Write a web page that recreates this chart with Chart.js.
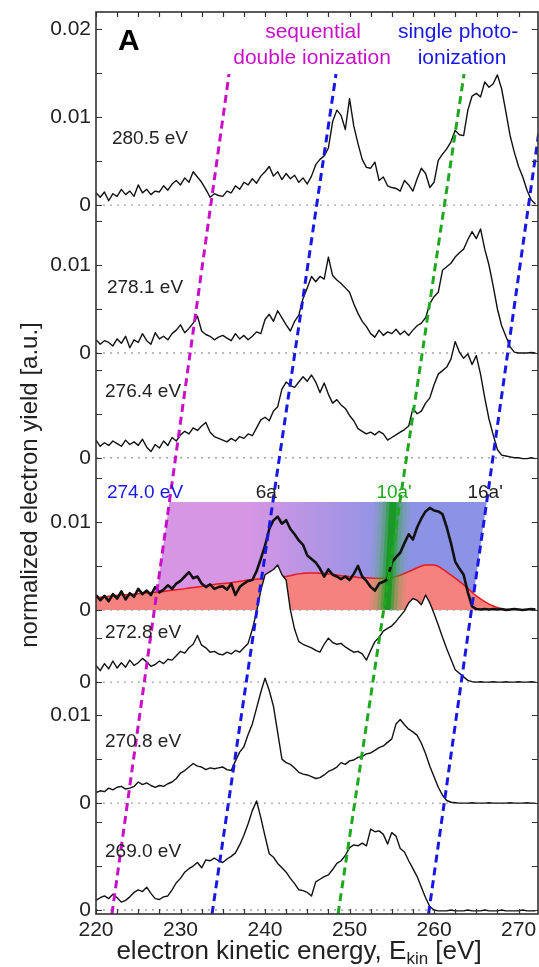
<!DOCTYPE html>
<html>
<head>
<meta charset="utf-8">
<title>Electron yield vs kinetic energy</title>
<script src="https://cdn.jsdelivr.net/npm/chart.js@4.4.1/dist/chart.umd.min.js"></script>
<style>
  html, body { margin: 0; padding: 0; background: #fff; overflow: hidden; }
  canvas { display: block; }
</style>
</head>
<body>
<canvas id="spectra" width="539" height="967"></canvas>
<script>
// kinetic energy grid shared by all traces (eV)
const energy = [
  220, 220.5, 221, 221.5, 222, 222.5, 223, 223.5, 224, 224.5,
  225, 225.5, 226, 226.5, 227, 227.5, 228, 228.5, 229, 229.5,
  230, 230.5, 231, 231.5, 232, 232.5, 233, 233.5, 234, 234.5,
  235, 235.5, 236, 236.5, 237, 237.5, 238, 238.5, 239, 239.5,
  240, 240.5, 241, 241.5, 242, 242.5, 243, 243.5, 244, 244.5,
  245, 245.5, 246, 246.5, 247, 247.5, 248, 248.5, 249, 249.5,
  250, 250.5, 251, 251.5, 252, 252.5, 253, 253.5, 254, 254.5,
  255, 255.5, 256, 256.5, 257, 257.5, 258, 258.5, 259, 259.5,
  260, 260.5, 261, 261.5, 262, 262.5, 263, 263.5, 264, 264.5,
  265, 265.5, 266, 266.5, 267, 267.5, 268, 268.5, 269, 269.5,
  270, 270.5, 271, 271.5, 272
];

// photon energy of each trace, top to bottom
const photonEnergies = ['280.5 eV', '278.1 eV', '276.4 eV', '274.0 eV', '272.8 eV', '270.8 eV', '269.0 eV'];

// vertical offset of each trace on the common axis (a.u.)
const offsets = [0.0801, 0.0633, 0.0514, 0.0341, 0.0259, 0.01215, 0];

// electron yield per trace, in units of 1e-3
const yield2805 = [
  1.4, 0.9, 1.5, 0.5, 1.3, 1.0, 1.8, 1.2, 1.6, 1.0,
  2.3, 1.4, 1.8, 1.2, 1.6, 1.5, 2.2, 1.7, 2.4, 2.8,
  2.3, 3.1, 2.6, 3.8, 3.2, 2.6, 1.8, 0.9, 1.3, 1.1,
  1.0, 1.6, 1.4, 2.2, 1.8, 2.6, 2.3, 3.0, 2.5, 3.3,
  3.8, 4.4, 3.3, 3.8, 2.9, 3.6, 3.0, 3.4, 2.6, 3.1,
  2.4, 3.3, 4.6, 5.2, 5.6, 6.5, 9.5, 10.8, 10.2, 8.6,
  12.1, 9.0, 7.0, 5.2, 4.3, 4.2, 4.9, 2.8, 3.2, 2.2,
  2.0, 1.9, 1.6, 2.8, 2.3, 1.6, 3.0, 4.2, 3.6, 2.0,
  2.6, 5.1, 5.8, 6.4, 7.2, 8.5, 8.0, 7.9, 10.8, 12.4,
  12.7, 12.3, 14.0, 13.4, 13.8, 14.8, 13.2, 10.6, 7.9, 6.0,
  4.4, 3.2, 1.7, 0.6, 0.1
];
const yield2781 = [
  1.5, 1.0, 1.4, 1.2, 0.8, 1.6, 1.1, 1.9, 0.6, 1.5,
  1.2, 2.2, 1.4, 1.0, 2.3, 1.6, 1.9, 1.5, 2.2, 2.6,
  3.2, 2.3, 2.8, 3.4, 4.2, 2.5, 2.1, 1.9, 1.5, 1.8,
  2.0, 1.7, 1.4, 2.2, 1.6, 2.0, 1.5, 1.9, 2.4, 2.2,
  3.8, 4.4, 3.6, 4.8, 4.0, 3.2, 2.5, 3.6, 4.3, 6.2,
  7.4, 8.7, 8.1, 8.7, 8.4, 10.9, 8.8, 8.3, 7.9, 7.4,
  6.9, 5.6, 4.5, 3.6, 3.0, 2.2, 1.8, 2.6, 2.0, 2.4,
  2.2, 2.7, 2.1, 2.5, 2.0, 2.6, 3.1, 3.4, 4.0, 5.6,
  6.4, 6.9, 9.4, 9.8, 10.2, 10.9, 11.4, 11.8, 12.9, 13.8,
  13.0, 14.1, 11.8, 10.0, 7.6, 5.0, 3.1, 1.9, 0.7, 0.1,
  0.0, 0.0, 0.0, 0.05, 0.0
];
const yield2764 = [
  2.0, 1.3, 1.7, 1.4, 1.9, 1.6, 1.3, 2.0, 1.5, 1.8,
  1.4, 2.1, 1.2, 0.7, 1.5, 1.1, 1.9, 1.4, 2.3, 1.9,
  2.6, 3.0, 2.7, 3.4, 3.1, 3.6, 4.0, 2.9, 2.4, 2.2,
  2.0, 1.8, 2.2, 1.9, 2.4, 2.2, 2.7, 2.5, 3.4, 4.3,
  4.6, 4.2, 5.3, 5.8, 7.8, 8.6, 8.2, 8.0, 8.6, 9.2,
  8.7, 9.4, 8.6, 7.4, 8.5, 7.2, 6.2, 6.6, 6.0, 5.6,
  4.8, 4.2, 3.3, 3.0, 2.7, 2.9, 2.6, 3.0, 2.7, 2.0,
  2.3, 2.6, 2.9, 3.2, 3.6, 5.6, 5.0, 5.3, 6.2, 6.8,
  8.3, 9.5, 9.9, 10.3, 11.2, 13.2, 12.0, 11.3, 11.8, 10.6,
  11.6, 9.5, 6.8, 4.4, 2.6, 0.9, 0.3, 0.2, 0.1, 0.0,
  0.0, -0.1, -0.1, 0.0, -0.1
];
const yield2740 = [
  1.7, 1.1, 1.6, 1.0, 1.8, 1.3, 2.1, 1.2, 1.9, 1.5,
  2.4, 1.8, 2.2, 1.7, 2.6, 2.0, 2.3, 2.8, 2.4, 3.0,
  3.3, 3.8, 4.3, 3.6, 3.8, 3.0, 2.6, 2.9, 2.4, 2.6,
  2.7, 2.3, 3.0, 1.7, 2.6, 3.0, 3.3, 3.4, 4.4, 5.8,
  7.3, 9.2, 10.2, 10.6, 9.8, 10.2, 9.2, 8.6, 7.9, 7.4,
  6.2, 5.8, 5.4, 4.7, 3.8, 4.6, 4.0, 3.8, 3.5, 3.8,
  3.4, 4.1, 5.0, 3.8, 3.3, 2.6, 2.2, 3.0, 3.2, 3.5,
  5.4, 6.0, 6.5, 7.6, 8.6, 8.0, 9.4, 10.4, 11.2, 11.6,
  11.3, 11.2, 10.9, 9.4, 7.6, 5.5, 4.7, 4.0, 2.0, 0.4,
  0.1, 0.05, 0.1, 0.05, 0.1, 0.05, 0.1, 0.0, 0.05, 0.1,
  0.05, 0.0, 0.05, 0.1, 0.05
];
const yield2728 = [
  1.9, 1.3, 2.1, 1.5, 2.4, 1.6, 2.2, 1.7, 2.5, 1.9,
  2.2, 2.7, 2.3, 1.8, 2.0, 2.4, 2.1, 2.6, 2.5, 3.0,
  3.5, 3.3, 3.9, 4.3, 5.3, 4.2, 3.9, 3.4, 3.5, 3.2,
  3.1, 3.4, 3.2, 3.6, 3.4, 3.9, 4.4, 6.0, 8.0, 10.4,
  12.2, 12.5, 12.8, 13.3, 12.2, 11.6, 8.2, 6.0, 4.6, 4.3,
  4.1, 3.9, 3.6, 3.4, 4.3, 5.0, 4.5, 4.3, 4.4, 4.0,
  3.7, 3.4, 3.5, 3.2, 2.5, 3.6, 4.6, 5.1, 5.8, 6.1,
  6.4, 6.9, 7.5, 8.1, 9.0, 9.5, 9.3, 8.8, 9.9, 9.0,
  7.8, 6.5, 5.1, 3.8, 2.6, 1.4, 1.0, 0.6, 0.2, 0.05,
  0.0, 0.05, 0.0, 0.0, 0.05, 0.0, 0.0, 0.05, 0.0, 0.0,
  0.05, 0.0, 0.0, 0.05, 0.0
];
const yield2708 = [
  1.2, 1.4, 1.3, 1.7, 1.5, 1.8, 1.9, 1.6, 1.7, 1.9,
  2.4, 2.1, 2.3, 2.0, 1.8, 2.0, 1.9, 2.2, 2.4, 2.8,
  3.4, 3.7, 4.1, 4.5, 4.2, 4.1, 3.8, 4.0, 3.9, 4.0,
  4.1, 3.8, 3.7, 4.8, 5.8, 6.4, 7.8, 9.0, 10.8, 12.6,
  14.2, 12.8, 11.0, 8.0, 5.0, 4.6, 4.4, 4.0, 3.5, 3.3,
  3.2, 3.0, 2.8, 2.9, 3.2, 3.6, 3.8, 4.1, 4.6, 4.4,
  4.8, 4.9, 5.2, 5.3, 5.6, 5.7, 6.0, 6.3, 6.5, 6.9,
  7.3, 9.0, 9.5, 8.9, 8.4, 8.1, 7.7, 6.8, 5.6, 4.2,
  3.0, 1.8, 0.9, 0.3, 0.1, 0.05, 0.0, 0.0, 0.0, 0.05,
  0.0, 0.0, 0.0, 0.05, 0.0, 0.0, 0.0, 0.0, 0.05, 0.0,
  0.0, 0.0, 0.05, 0.0, 0.0
];
const yield2690 = [
  1.1, 1.4, 1.6, 1.3, 1.8, 1.4, 0.9, 1.1, 1.5, 2.0,
  2.3, 2.1, 2.6, 1.9, 1.3, 1.2, 1.5, 1.6, 2.3, 3.1,
  3.6, 4.3, 4.7, 5.0, 5.4, 4.8, 5.7, 5.6, 5.9, 5.6,
  5.4, 5.8, 6.1, 6.5, 7.4, 8.5, 9.8, 11.3, 12.4, 10.5,
  8.4, 6.4, 6.0, 5.3, 4.8, 4.3, 3.6, 3.0, 2.3, 2.2,
  2.0, 1.6, 3.2, 3.5, 3.8, 4.0, 4.6, 5.3, 5.6, 6.2,
  7.1, 7.4, 7.3, 7.6, 7.3, 9.2, 8.9, 9.0, 8.6, 7.5,
  8.8, 8.4, 7.0, 6.6, 5.6, 4.7, 3.8, 2.6, 1.4, 0.4,
  0.0, -0.1, -0.1, -0.1, 0.0, -0.1, -0.1, -0.1, 0.0, -0.1,
  -0.1, -0.1, 0.0, -0.1, -0.1, -0.1, 0.0, -0.1, -0.1, -0.1,
  -0.1, 0.0, -0.1, -0.1, -0.1
];
const traces = [yield2805, yield2781, yield2764, yield2740, yield2728, yield2708, yield2690];

// smooth background model under the 274.0 eV trace (1e-3)
const modelEnergy = [
  220, 221, 222, 223, 224, 225, 226, 227, 228, 229,
  230, 231, 232, 233, 234, 235, 236, 237, 238, 239,
  240, 241, 242, 243, 244, 245, 246, 247, 248, 249,
  250, 251, 252, 253, 254, 255, 256, 257, 258, 259,
  260, 261, 262, 263, 264, 265, 266, 267, 268, 269
];
const model2740 = [
  1.4, 1.5, 1.6, 1.7, 1.75, 1.85, 1.95, 2.0, 2.1, 2.25,
  2.35, 2.5, 2.6, 2.75, 2.9, 3.0, 3.1, 3.25, 3.4, 3.5,
  3.6, 3.7, 3.75, 3.9, 4.1, 4.2, 4.2, 4.15, 4.05, 3.9,
  3.8, 3.7, 3.65, 3.6, 3.6, 3.7, 3.95, 4.35, 4.8, 5.1,
  5.1, 4.65, 3.95, 3.25, 2.45, 1.6, 0.95, 0.45, 0.15, 0.0
];

// dispersion guides: kinetic energy at the bottom and top of the stack
const guideLowEnergy = [221.89, 233.73, 248.64, 259.35];
const guideHighEnergy = [235.74, 248.40, 263.55, 273.37];
const guideLowYield = -0.00045;
const guideHighYield = 0.095;

// 10a' band through the 274.0 eV trace (eV at its base and at its top)
const bandEnergy = [254.44, 255.15];
// height of the highlighted window above the 274.0 eV baseline (a.u.)
const windowHeight = 0.01226;

// y ticks of each trace, relative to its own baseline
const panelTicks = [
  [0, 0.005, 0.01, 0.015, 0.02],
  [0, 0.005, 0.01, 0.015],
  [0, 0.005, 0.01],
  [0, 0.005, 0.01, 0.015],
  [0, 0.005],
  [0, 0.005, 0.01],
  [0, 0.005, 0.01]
];
const panelTickLabels = [
  ['0', '', '0.01', '', '0.02'],
  ['0', '', '0.01', ''],
  ['0', '', ''],
  ['0', '', '0.01', ''],
  ['0', ''],
  ['0', '', '0.01'],
  ['0', '', '']
];
const xTickLabels = [220, 230, 240, 250, 260, 270];

// ---- build everything from the arrays above ----

const FONT = "'Liberation Sans', Arial, Helvetica, sans-serif";
const MAGENTA = '#c80fc8';
const BLUE = '#1818e6';
const GREEN = '#1fa81f';

const yTicks = [];
panelTicks.forEach((list, p) => {
  list.forEach((t, k) => yTicks.push({ value: offsets[p] + t, label: panelTickLabels[p][k] }));
});
yTicks.sort((a, b) => a.value - b.value);

function guideEnergyAt(i, y) {
  const t = (y - guideLowYield) / (guideHighYield - guideLowYield);
  return guideLowEnergy[i] + t * (guideHighEnergy[i] - guideLowEnergy[i]);
}

const base4 = offsets[3];
const top4 = base4 + windowHeight;

const datasets = [];

// dashed guides on top of everything
const guideColors = [MAGENTA, BLUE, GREEN, BLUE];
guideLowEnergy.forEach((e, i) => {
  datasets.push({
    data: [{ x: e, y: guideLowYield }, { x: guideHighEnergy[i], y: guideHighYield }],
    borderColor: guideColors[i],
    borderWidth: 3,
    borderDash: [8, 5],
    pointRadius: 0,
    fill: false,
    order: 0
  });
});

// traces, lower ones drawn over upper ones; white underfill hides what is behind
traces.forEach((vals, i) => {
  datasets.push({
    label: photonEnergies[i],
    data: energy.map((e, k) => ({ x: e, y: offsets[i] + vals[k] * 1e-3 })),
    borderColor: '#111',
    borderWidth: i === 3 ? 2.6 : 1.4,
    borderJoinStyle: 'round',
    pointRadius: 0,
    backgroundColor: '#ffffff',
    fill: i === 3 ? false : { value: offsets[i] + 0.00015 },
    order: 10 + (6 - i)
  });
});

// dotted zero lines
offsets.forEach(off => {
  datasets.push({
    data: [{ x: 220, y: off }, { x: 272.3, y: off }],
    borderColor: '#a3a3a3',
    borderWidth: 1.4,
    borderDash: [2, 5],
    pointRadius: 0,
    fill: false,
    order: 20
  });
});

// soft green 10a' band: several widths stacked, widest and faintest first
[[36, 'rgba(80,180,80,0.12)'], [28, 'rgba(60,172,60,0.18)'], [20, 'rgba(40,165,45,0.28)'],
 [13, 'rgba(30,160,40,0.5)'], [7, 'rgba(20,150,30,0.85)']]
  .forEach(([w, c], k) => {
    datasets.push({
      data: [{ x: bandEnergy[0], y: base4 }, { x: bandEnergy[1], y: top4 }],
      borderColor: c,
      borderWidth: w,
      borderCapStyle: 'butt',
      pointRadius: 0,
      fill: false,
      order: 35 - k
    });
  });

// red background model
datasets.push({
  data: modelEnergy.map((e, k) => ({ x: e, y: base4 + model2740[k] * 1e-3 })),
  borderColor: '#e8181c',
  borderWidth: 1.5,
  backgroundColor: 'rgb(246,130,128)',
  fill: { value: base4 },
  pointRadius: 0,
  cubicInterpolationMode: 'monotone',
  order: 40
});

// purple-to-blue window bounded by the outer guides
datasets.push({
  data: [
    { x: guideEnergyAt(0, top4), y: top4 },
    { x: guideEnergyAt(3, top4), y: top4 },
    { x: guideEnergyAt(3, base4), y: base4 },
    { x: guideEnergyAt(0, base4), y: base4 }
  ],
  borderColor: 'rgba(0,0,0,0)',
  borderWidth: 0,
  pointRadius: 0,
  fill: 'shape',
  backgroundColor: (c) => {
    const chart = c.chart;
    if (!chart.chartArea || !chart.scales.x) return 'rgb(180,148,228)';
    const xs = chart.scales.x;
    const g = chart.ctx.createLinearGradient(xs.getPixelForValue(238), 0, xs.getPixelForValue(255), 0);
    g.addColorStop(0, 'rgb(214,150,228)');
    g.addColorStop(1, 'rgb(140,147,228)');
    return g;
  },
  order: 50
});

// text drawn on top of the plot
const annotations = {
  id: 'annotations',
  afterDatasetsDraw(chart) {
    const { ctx, chartArea: a, scales: { x, y } } = chart;
    ctx.save();

    // frame and inward ticks
    ctx.strokeStyle = '#333';
    ctx.lineWidth = 1.6;
    ctx.strokeRect(a.left, a.top, a.right - a.left, a.bottom - a.top);
    ctx.lineWidth = 1.2;
    ctx.beginPath();
    y.ticks.forEach(t => {
      const py = Math.round(y.getPixelForValue(t.value)) + 0.5;
      ctx.moveTo(a.left, py); ctx.lineTo(a.left + 6, py);
      ctx.moveTo(a.right, py); ctx.lineTo(a.right - 6, py);
    });
    x.ticks.forEach(t => {
      const px = Math.round(x.getPixelForValue(t.value)) + 0.5;
      ctx.moveTo(px, a.bottom); ctx.lineTo(px, a.bottom - 5);
      ctx.moveTo(px, a.top); ctx.lineTo(px, a.top + 5);
    });
    ctx.stroke();

    const put = (text, ex, ey, color, size, align, weight) => {
      ctx.font = `${weight || 'normal'} ${size}px ${FONT}`;
      ctx.fillStyle = color;
      ctx.textAlign = align;
      ctx.textBaseline = 'alphabetic';
      ctx.fillText(text, x.getPixelForValue(ex), y.getPixelForValue(ey));
    };

    // photon energy of each trace
    const labelE = [221.89, 221.3, 221.07, 221.3, 221.07, 221.07, 221.07];
    const labelH = [6.93, 6.8, 6.93, 12.7, 5.0, 6.36, 6.0];
    photonEnergies.forEach((t, i) => {
      put(t, labelE[i], offsets[i] + labelH[i] * 1e-3, i === 3 ? BLUE : '#222', 19, 'left');
    });

    // orbital labels over the 274.0 eV window
    put("6a'", 240.36, base4 + 0.0127, '#222', 19, 'center');
    put("10a'", 255.27, base4 + 0.0127, GREEN, 19, 'center');
    put("16a'", 266.04, base4 + 0.0127, '#222', 19, 'center');

    // headers
    put('A', 222.6, 0.09773, '#000', 30, 'left', 'bold');
    put('sequential', 245.68, 0.09909, MAGENTA, 21, 'center');
    put('double ionization', 245.56, 0.09614, MAGENTA, 21, 'center');
    put('single photo-', 262.84, 0.09909, BLUE, 21, 'center');
    put('ionization', 263.31, 0.09614, BLUE, 21, 'center');

    // axis titles
    ctx.fillStyle = '#222';
    ctx.textBaseline = 'alphabetic';
    ctx.save();
    ctx.translate(37, 485);
    ctx.rotate(-Math.PI / 2);
    ctx.textAlign = 'center';
    ctx.font = `24px ${FONT}`;
    ctx.fillText('normalized electron yield [a.u.]', 0, 0);
    ctx.restore();

    const main = 'electron kinetic energy, E';
    const sub = 'kin';
    const tail = ' [eV]';
    ctx.font = `26px ${FONT}`;
    const w1 = ctx.measureText(main).width;
    const w3 = ctx.measureText(tail).width;
    ctx.font = `17px ${FONT}`;
    const w2 = ctx.measureText(sub).width;
    const left = 299 - (w1 + w2 + w3) / 2;
    const base = 959;
    ctx.textAlign = 'left';
    ctx.font = `26px ${FONT}`;
    ctx.fillText(main, left, base);
    ctx.font = `17px ${FONT}`;
    ctx.fillText(sub, left + w1, base + 5);
    ctx.font = `26px ${FONT}`;
    ctx.fillText(tail, left + w1 + w2, base);

    ctx.restore();
  }
};

new Chart(document.getElementById('spectra'), {
  type: 'line',
  data: { datasets },
  options: {
    responsive: false,
    animation: false,
    devicePixelRatio: 1,
    layout: { padding: { top: 12, right: 1, bottom: 0, left: 0 } },
    plugins: { legend: { display: false }, tooltip: { enabled: false } },
    scales: {
      x: {
        type: 'linear',
        min: 220,
        max: 272.3,
        grid: { display: false, drawTicks: false },
        border: { display: false },
        ticks: {
          stepSize: 2.5,
          includeBounds: false,
          autoSkip: false,
          maxRotation: 0,
          padding: 4,
          color: '#222',
          font: { family: FONT, size: 21 },
          callback: v => (xTickLabels.includes(Math.round(v * 100) / 100) ? String(Math.round(v)) : '')
        },
        afterBuildTicks: s => {
          s.ticks = s.ticks.filter(t => Math.abs(t.value / 2.5 - Math.round(t.value / 2.5)) < 1e-6);
        },
        afterFit: s => { s.height = 53; s.paddingLeft = 0; s.paddingRight = 0; }
      },
      y: {
        type: 'linear',
        min: -0.00045,
        max: 0.10205,
        grid: { display: false, drawTicks: false },
        border: { display: false },
        ticks: {
          autoSkip: false,
          padding: 5,
          color: '#222',
          font: { family: FONT, size: 21 },
          callback: (v, i) => (yTicks[i] ? yTicks[i].label : '')
        },
        afterBuildTicks: s => { s.ticks = yTicks.map(t => ({ value: t.value })); },
        afterFit: s => { s.width = 96; s.paddingTop = 0; s.paddingBottom = 0; }
      }
    }
  },
  plugins: [annotations]
});
</script>
</body>
</html>
